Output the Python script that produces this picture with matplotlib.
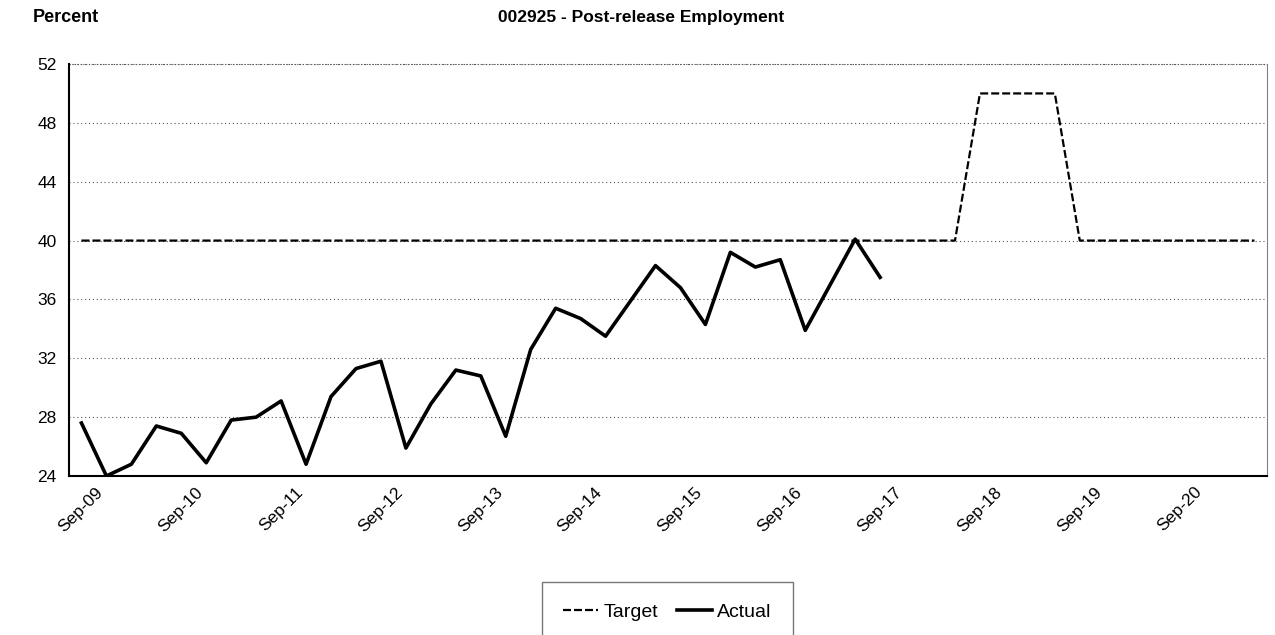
import numpy as np
import matplotlib.pyplot as plt
import matplotlib.transforms as mtransforms

plt.rcParams['font.family'] = ['Liberation Sans', 'DejaVu Sans']

# === Data (quarterly, Sep-09 .. Jun-21) ===
target = [40] * 36 + [50, 50, 50, 50] + [40] * 8

actual = [27.6, 24.0, 24.8, 27.4, 26.9, 24.9, 27.8, 28.0, 29.1, 24.8, 29.4,
          31.3, 31.8, 25.9, 28.9, 31.2, 30.8, 26.7, 32.6, 35.4, 34.7, 33.5,
          35.9, 38.3, 36.8, 34.3, 39.2, 38.2, 38.7, 33.9, 37.0, 40.1, 37.5]

tick_labels = ["Sep-09", "Sep-10", "Sep-11", "Sep-12", "Sep-13", "Sep-14",
               "Sep-15", "Sep-16", "Sep-17", "Sep-18", "Sep-19", "Sep-20"]

# === Plot ===
fig = plt.figure(figsize=(12.75, 6.35), dpi=100)
ax = fig.add_axes([0.0541, 0.2504, 0.9396, 0.6488])

x_t = np.arange(len(target))
x_a = np.arange(len(actual))
ax.plot(x_t, target, color="black", lw=1.6, linestyle=(0, (3.6, 1.35)), label="Target")
ax.plot(x_a, actual, color="black", lw=2.6, label="Actual")

ax.set_xlim(-0.5, 47.5)
ax.set_ylim(24, 52)
ax.set_yticks(np.arange(24, 53, 4))
ax.set_xticks(np.arange(0, 48, 4))
ax.set_xticklabels(tick_labels, rotation=45, ha="right", rotation_mode="anchor")
ax.tick_params(axis="both", length=0, labelsize=12.5)
ax.tick_params(axis="y", pad=9)
ax.tick_params(axis="x", pad=6)

offset = mtransforms.ScaledTranslation(14 / 100, 0, fig.dpi_scale_trans)
for lbl in ax.get_xticklabels():
    lbl.set_transform(lbl.get_transform() + offset)

ax.yaxis.grid(True, color="#555555", lw=0.8, linestyle=(0, (1, 2.5)))
ax.set_axisbelow(True)
ax.spines["top"].set_visible(False)
ax.spines["right"].set_color("#808080")
ax.spines["left"].set_linewidth(1.5)
ax.spines["bottom"].set_linewidth(1.5)
ax.axhline(52, color="#555555", lw=0.8, linestyle=(0, (1, 1.5)), clip_on=False)

fig.text(0.026, 0.973, "Percent", fontsize=13, fontweight="bold", va="center")
fig.text(0.503, 0.973, "002925 - Post-release Employment", fontsize=12.5,
         fontweight="bold", va="center", ha="center")

leg = fig.legend(loc="upper center", bbox_to_anchor=(0.5235, 0.0835), ncol=2,
                 fontsize=14, frameon=True, fancybox=False, edgecolor="#555555",
                 handlelength=1.8, handletextpad=0.25, columnspacing=1.0,
                 borderpad=1.1, borderaxespad=0)
leg.get_frame().set_linewidth(1.0)

fig.savefig("out.png", dpi=100)
